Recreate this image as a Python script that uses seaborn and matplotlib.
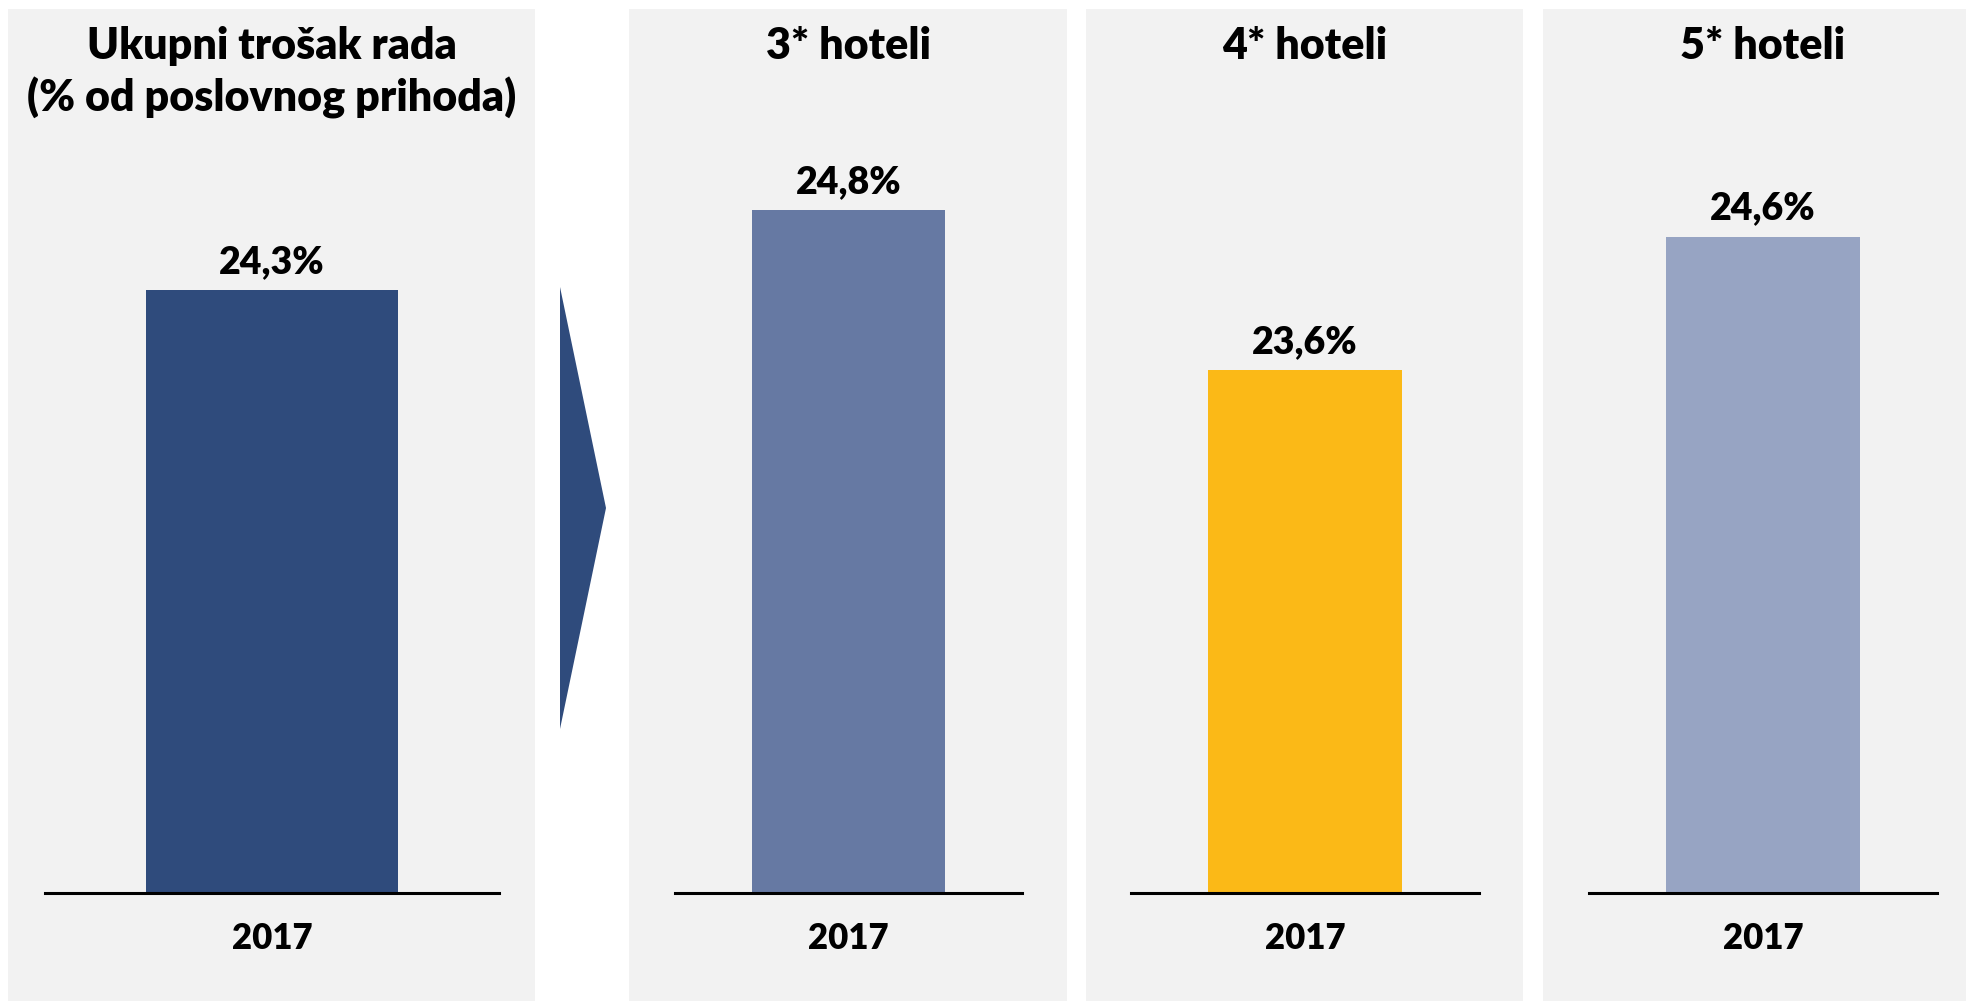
import matplotlib
matplotlib.use("Agg")
import matplotlib.pyplot as plt
import seaborn as sns
import pandas as pd
from matplotlib.patches import Rectangle, Polygon

# podaci
titles = ["Ukupni trošak rada\n(% od poslovnog prihoda)", "3* hoteli", "4* hoteli", "5* hoteli"]
years = ["2017"]
values = [24.3, 24.8, 23.6, 24.6]
colors = ["#2F4B7C", "#6679A3", "#FBB917", "#97A4C3"]

sns.set_theme(style="white")
plt.rcParams["font.family"] = ["Lato", "DejaVu Sans"]
plt.rcParams["font.weight"] = "heavy"
plt.rcParams["text.color"] = "black"
plt.rcParams["xtick.color"] = "black"

W, H = 1966, 1003
fig = plt.figure(figsize=(W / 100, H / 100), dpi=100)
fig.patch.set_facecolor("white")

# sive pozadine panela (px)
panels_bg = [(8, 535), (629, 1067), (1086, 1523), (1543, 1966)]
axes_x = [(45, 499), (675, 1022), (1131, 1479), (1589, 1937)]
ymins = [19.78, 19.68, 19.68, 19.68]
for x0, x1 in panels_bg:
    fig.patches.append(Rectangle((x0 / W, 0.001), (x1 - x0) / W, 1 - 10 / H - 0.001,
                                 transform=fig.transFigure, facecolor="#F2F2F2",
                                 edgecolor="none", zorder=-10))

# strelica
arrow = [(560, 288), (606, 509), (560, 730)]
fig.patches.append(Polygon([(x / W, 1 - y / H) for x, y in arrow], closed=True,
                           transform=fig.transFigure, facecolor=colors[0],
                           edgecolor="none", zorder=-5))

bottom = 1 - 894 / H
top = 1 - 150 / H
for i in range(4):
    x0, x1 = axes_x[i]
    ax = fig.add_axes([x0 / W, bottom, (x1 - x0) / W, top - bottom])
    ax.patch.set_alpha(0)
    df = pd.DataFrame({"godina": years, "vrijednost": [values[i]]})
    sns.barplot(data=df, x="godina", y="vrijednost", color=colors[i],
                width=0.555, saturation=1, linewidth=0, ax=ax)
    ax.set_ylim(ymins[i], ymins[i] + 5.58)
    ax.set_xlim(-0.5, 0.5)
    for c in ax.containers:
        ax.bar_label(c, labels=[f"{v:.1f}%".replace(".", ",") for v in [values[i]]],
                     padding=9, fontsize=27, fontweight="heavy", color="black")
    for s in ["top", "right", "left"]:
        ax.spines[s].set_visible(False)
    ax.spines["bottom"].set_color("black")
    ax.spines["bottom"].set_linewidth(2.2)
    ax.set_yticks([])
    ax.set_xlabel("")
    ax.set_ylabel("")
    ax.tick_params(axis="x", length=0, pad=20, labelsize=25)
    for t in ax.get_xticklabels():
        t.set_fontweight("heavy")
    xc = (x0 + x1) / 2 / W
    fig.text(xc, 1 - 26 / H, titles[i], ha="center", va="top", fontsize=31,
             fontweight="heavy", linespacing=1.3)

fig.savefig("out.png", dpi=100)
